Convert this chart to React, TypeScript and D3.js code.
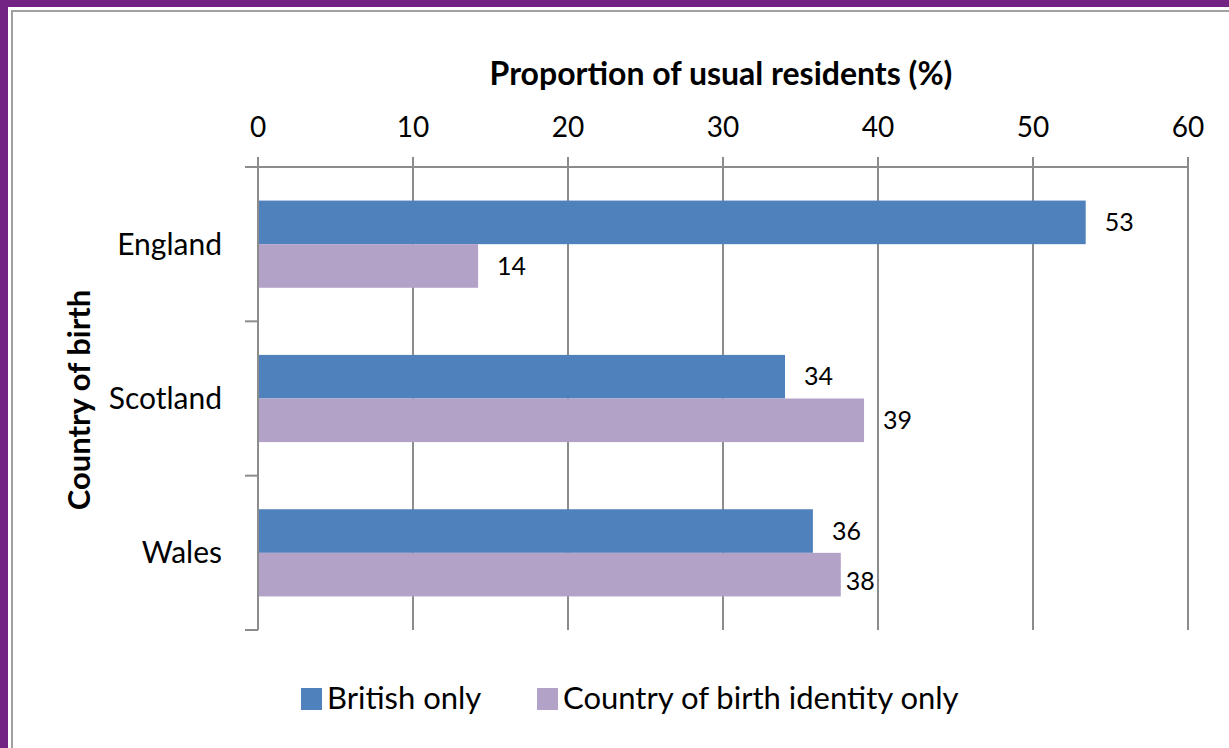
import * as d3 from "d3";
import React, { useEffect, useRef } from "react";

const countries = ["England", "Scotland", "Wales"];
const seriesNames = ["British only", "Country of birth identity only"];
const britishOnly = [53.4, 34, 35.8];
const birthIdentityOnly = [14.2, 39.1, 37.6];
const xTicks = [0, 10, 20, 30, 40, 50, 60];

const COLORS = ["#4f81bd", "#b3a2c7"];
const GRID = "#8c8c8c";
const FONT = "Lato, 'Open Sans', sans-serif";

const W = 1229;
const H = 748;

const App: React.FC = () => {
  const svgRef = useRef<SVGSVGElement>(null);

  useEffect(() => {
    if (!svgRef.current) return;
    const svg = d3.select(svgRef.current);
    svg.selectAll("*").remove();

    const left = 258;
    const right = 1188;
    const top = 167;
    const bottom = 630;

    // frame
    svg.append("rect").attr("width", W).attr("height", H).attr("fill", "#722384");
    svg.append("rect").attr("x", 8).attr("y", 7).attr("width", W).attr("height", H).attr("fill", "#fff");
    svg
      .append("rect")
      .attr("x", 12)
      .attr("y", 11)
      .attr("width", W)
      .attr("height", H)
      .attr("fill", "none")
      .attr("stroke", "#a0a0a0")
      .attr("stroke-width", 2);

    const x = d3.scaleLinear().domain([0, 60]).range([left, right]);
    const y = d3.scaleBand<string>().domain(countries).range([top, bottom]).padding(0);
    const yInner = d3
      .scaleBand<number>()
      .domain([0, 1])
      .range([0, y.bandwidth()])
      .paddingInner(0)
      .paddingOuter(0.77);

    const series = [britishOnly, birthIdentityOnly];

    // gridlines + top ticks
    svg
      .append("g")
      .selectAll("line")
      .data(xTicks)
      .join("line")
      .attr("x1", (d) => x(d))
      .attr("x2", (d) => x(d))
      .attr("y1", top - 10)
      .attr("y2", bottom)
      .attr("stroke", GRID)
      .attr("stroke-width", 2);

    // top axis line
    svg
      .append("line")
      .attr("x1", left - 13)
      .attr("x2", right)
      .attr("y1", top)
      .attr("y2", top)
      .attr("stroke", GRID)
      .attr("stroke-width", 2);

    // category ticks
    const catEdges = [...countries.map((c) => y(c)!), bottom];
    svg
      .append("g")
      .selectAll("line")
      .data(catEdges)
      .join("line")
      .attr("x1", left - 13)
      .attr("x2", left)
      .attr("y1", (d) => d)
      .attr("y2", (d) => d)
      .attr("stroke", GRID)
      .attr("stroke-width", 2);

    // bars
    series.forEach((vals, si) => {
      svg
        .append("g")
        .selectAll("rect")
        .data(vals)
        .join("rect")
        .attr("x", x(0) + 1)
        .attr("y", (_, i) => y(countries[i])! + yInner(si)!)
        .attr("width", (d) => x(d) - x(0) - 1)
        .attr("height", yInner.bandwidth())
        .attr("fill", COLORS[si]);
    });

    // value labels (Wales identity label sits tight to its bar in the original)
    const nudge = (si: number, i: number) =>
      si === 1 && i === 2 ? { dx: 5, dy: 7 } : { dx: 19, dy: 0 };
    series.forEach((vals, si) => {
      svg
        .append("g")
        .selectAll("text")
        .data(vals)
        .join("text")
        .attr("x", (d, i) => x(d) + nudge(si, i).dx)
        .attr("y", (_, i) => y(countries[i])! + yInner(si)! + yInner.bandwidth() / 2 + nudge(si, i).dy)
        .attr("dy", "0.35em")
        .attr("font-family", FONT)
        .attr("font-size", 25)
        .attr("fill", "#000")
        .text((d) => d3.format(".0f")(d));
    });

    // tick labels
    svg
      .append("g")
      .selectAll("text")
      .data(xTicks)
      .join("text")
      .attr("x", (d) => x(d))
      .attr("y", 137)
      .attr("text-anchor", "middle")
      .attr("font-family", FONT)
      .attr("font-size", 28)
      .attr("fill", "#000")
      .text((d) => d);

    // category labels
    svg
      .append("g")
      .selectAll("text")
      .data(countries)
      .join("text")
      .attr("x", 222)
      .attr("y", (d) => y(d)! + y.bandwidth() / 2)
      .attr("dy", "0.35em")
      .attr("text-anchor", "end")
      .attr("font-family", FONT)
      .attr("font-size", 30)
      .attr("fill", "#000")
      .text((d) => d);

    // axis titles
    svg
      .append("text")
      .attr("x", 721)
      .attr("y", 85)
      .attr("text-anchor", "middle")
      .attr("font-family", FONT)
      .attr("font-weight", "bold")
      .attr("font-size", 32)
      .attr("fill", "#000")
      .text("Proportion of usual residents (%)");

    svg
      .append("text")
      .attr("transform", "translate(90,400) rotate(-90)")
      .attr("text-anchor", "middle")
      .attr("font-family", FONT)
      .attr("font-weight", "bold")
      .attr("font-size", 31)
      .attr("fill", "#000")
      .text("Country of birth");

    // legend
    const legendX = [301, 537];
    const lg = svg.append("g");
    seriesNames.forEach((name, i) => {
      lg.append("rect")
        .attr("x", legendX[i])
        .attr("y", 688)
        .attr("width", 21)
        .attr("height", 22)
        .attr("fill", COLORS[i]);
      lg.append("text")
        .attr("x", legendX[i] + 26)
        .attr("y", 709)
        .attr("font-family", FONT)
        .attr("font-size", 31)
        .attr("fill", "#000")
        .text(name);
    });
  }, []);

  return (
    <svg
      ref={svgRef}
      width={W}
      height={H}
      style={{ position: "absolute", left: 0, top: 0, display: "block" }}
    />
  );
};

export default App;
